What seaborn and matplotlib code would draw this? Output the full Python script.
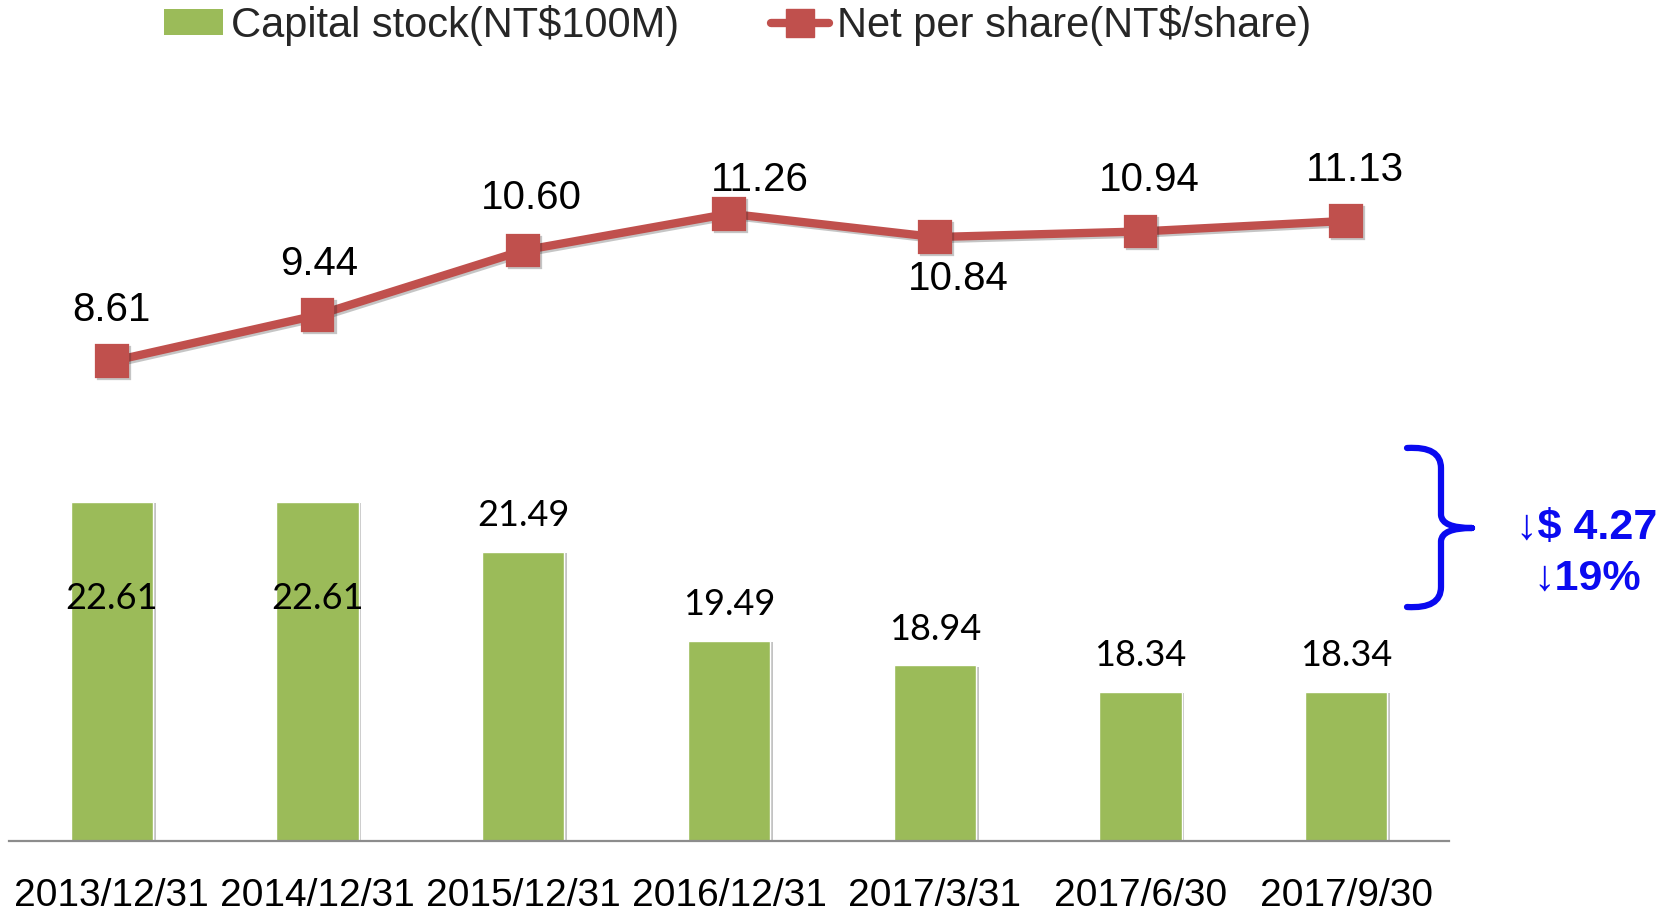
import matplotlib
matplotlib.use("Agg")
import matplotlib.pyplot as plt
import matplotlib.patheffects as pe
import matplotlib.transforms as mtransforms
from matplotlib.path import Path
from matplotlib.patches import PathPatch, Patch
from matplotlib.lines import Line2D
import numpy as np
import pandas as pd
import seaborn as sns

# data
dates = ["2013/12/31", "2014/12/31", "2015/12/31", "2016/12/31",
         "2017/3/31", "2017/6/30", "2017/9/30"]
capital = [22.61, 22.61, 21.49, 19.49, 18.94, 18.34, 18.34]
eps = [8.61, 9.44, 10.60, 11.26, 10.84, 10.94, 11.13]
cap_labels = ["22.61", "22.61", "21.49", "19.49", "18.94", "18.34", "18.34"]
eps_labels = ["8.61", "9.44", "10.60", "11.26", "10.84", "10.94", "11.13"]

GREEN = "#9BBB59"
RED = "#C0504D"
BLUE = "#0A0AF0"
W, H = 1677, 916

df = pd.DataFrame({"Date": dates, "Capital": capital, "EPS": eps})

sns.set_theme(style="white")
plt.rcParams["font.family"] = ["Liberation Sans", "DejaVu Sans"]

fig = plt.figure(figsize=(W / 100, H / 100), dpi=100)
ax = fig.add_axes([9 / W, 75 / H, 1440 / W, 780 / H])

shadow = [pe.withSimplePatchShadow(offset=(2, -1), shadow_rgbFace="#888888", alpha=0.5)]
sns.barplot(data=df, x="Date", y="Capital", color=GREEN, saturation=1,
            width=0.4, ax=ax)
for bar in ax.patches:
    bar.set_path_effects(shadow)
ax.set_ylim(15, 15 + 780 / 44.6)

ax2 = ax.twinx()
sns.pointplot(data=df, x="Date", y="EPS", color=RED, markers="s",
              markersize=20, linewidth=6, errorbar=None, ax=ax2)
for ln in ax2.lines:
    ln.set_path_effects([pe.SimpleLineShadow(offset=(1.5, -1.5), alpha=0.25), pe.Normal()])
ax2.set_ylim(0, 14)
ax2.set_xlim(-0.5, 6.5)

for a in (ax, ax2):
    for s in ("top", "left", "right"):
        a.spines[s].set_visible(False)
    a.set_xlabel("")
    a.set_ylabel("")
    a.set_yticks([])
ax2.spines["bottom"].set_visible(False)
ax.spines["bottom"].set_color("#8c8c8c")
ax.spines["bottom"].set_linewidth(1.6)

ax.set_xticks(range(len(dates)))
ax.set_xticklabels(dates, fontsize=28, color="black")
ax.tick_params(axis="x", length=0, pad=27)

# bar value labels
bar_dy = [-70, -70, 26, 26, 26, 26, 26]
for i, (v, t) in enumerate(zip(capital, cap_labels)):
    ax.annotate(t, (i, v), xytext=(0, bar_dy[i]), textcoords="offset points",
                ha="center", va="center", fontsize=26, family=["Lato", "DejaVu Sans"],
                color="black")

# line value labels
eps_off = [(0, 37), (1, 37), (6, 38), (22, 24), (17, -30), (6, 37), (6, 37)]
for i, (v, t) in enumerate(zip(eps, eps_labels)):
    ax2.annotate(t, (i, v), xytext=eps_off[i], textcoords="offset points",
                 ha="center", va="center", fontsize=29, color="black")

# legend
handles = [
    Patch(facecolor=GREEN, edgecolor="none"),
    Line2D([], [], color=RED, lw=6, marker="s", markersize=20,
           solid_capstyle="round"),
]
fig.legend(handles, ["Capital stock(NT$100M)", "Net per share(NT$/share)"],
           loc="center", bbox_to_anchor=(738 / W, 1 - 25 / H), ncol=2,
           frameon=False, fontsize=30, handlelength=1.4, handleheight=0.6,
           handletextpad=0.2, columnspacing=2.2)

# brace + change annotation, in figure pixels from top-left
tr = mtransforms.Affine2D().scale(1 / W, -1 / H).translate(0, 1) + fig.transFigure
C3, L2, M = Path.CURVE3, Path.LINETO, Path.MOVETO
verts = [(1407, 448), (1441, 446), (1441, 468), (1441, 515), (1442, 528), (1472, 528),
         (1407, 607), (1441, 609), (1441, 587), (1441, 541), (1442, 528), (1472, 528)]
codes = [M, C3, C3, L2, C3, C3, M, C3, C3, L2, C3, C3]
fig.patches.append(PathPatch(Path(verts, codes), transform=tr, fill=False,
                             edgecolor=BLUE, lw=4.5, capstyle="round",
                             joinstyle="round"))
fig.text(1587 / W, 1 - 528 / H, "\u2193$ 4.27", ha="center", va="center",
         fontsize=31, fontweight="bold", color=BLUE)
fig.text(1587 / W, 1 - 579 / H, "\u219319%", ha="center", va="center",
         fontsize=31, fontweight="bold", color=BLUE)

fig.savefig("out.png", dpi=100, facecolor="white")
